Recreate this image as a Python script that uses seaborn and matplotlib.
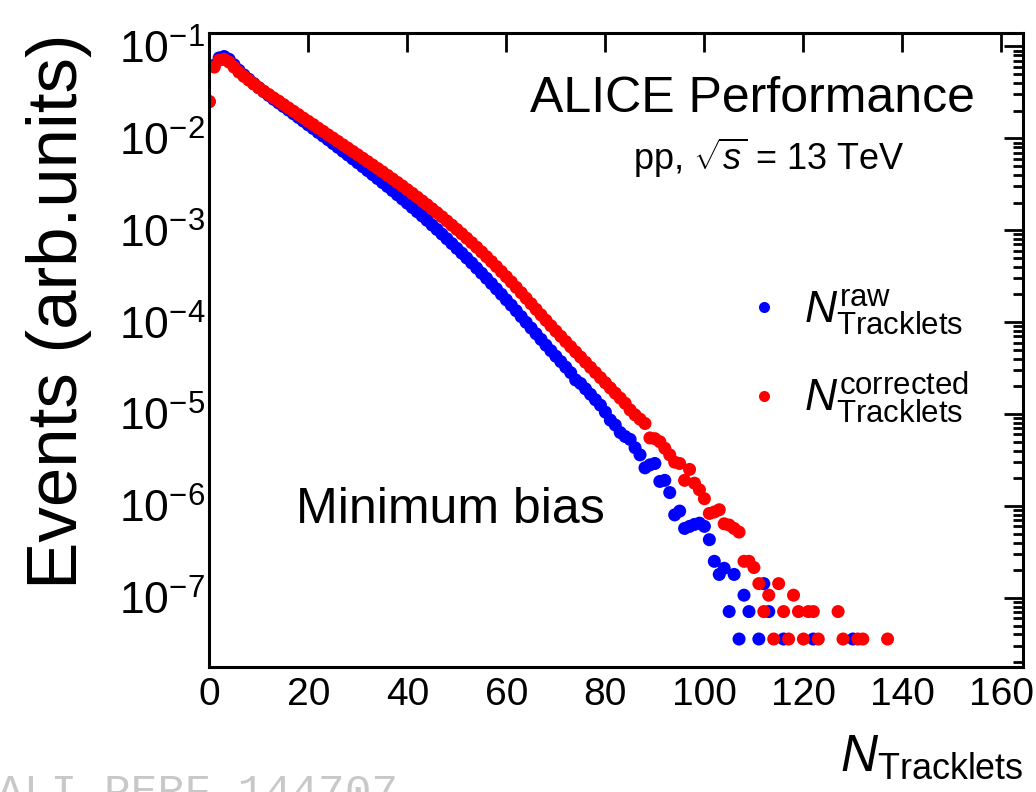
import numpy as np
import pandas as pd
import matplotlib
matplotlib.use("Agg")
import matplotlib.pyplot as plt
import seaborn as sns
from matplotlib.ticker import LogLocator, NullLocator, FixedLocator, NullFormatter

# ---------------- data ----------------
raw_n = list(range(0, 110)) + [111, 112, 113, 116, 122, 130]
raw_vals = [
    2.51e-2, 6.24e-2, 7.50e-2, 7.76e-2, 7.24e-2, 6.31e-2, 5.50e-2, 4.89e-2, 4.39e-2, 3.94e-2,
    3.55e-2, 3.22e-2, 2.93e-2, 2.66e-2, 2.43e-2, 2.22e-2, 2.03e-2, 1.85e-2, 1.69e-2, 1.54e-2,
    1.40e-2, 1.28e-2, 1.16e-2, 1.06e-2, 9.66e-3, 8.77e-3, 7.98e-3, 7.24e-3, 6.59e-3, 5.97e-3,
    5.42e-3, 4.91e-3, 4.45e-3, 4.03e-3, 3.65e-3, 3.30e-3, 2.99e-3, 2.70e-3, 2.43e-3, 2.19e-3,
    1.97e-3, 1.77e-3, 1.59e-3, 1.43e-3, 1.28e-3, 1.14e-3, 1.02e-3, 9.08e-4, 8.07e-4, 7.16e-4,
    6.35e-4, 5.64e-4, 4.99e-4, 4.41e-4, 3.88e-4, 3.41e-4, 3.00e-4, 2.63e-4, 2.30e-4, 2.01e-4,
    1.75e-4, 1.53e-4, 1.33e-4, 1.15e-4, 9.95e-5, 8.63e-5, 7.48e-5, 6.49e-5, 5.62e-5, 4.89e-5,
    4.26e-5, 3.72e-5, 3.24e-5, 2.82e-5, 2.35e-5, 2.15e-5, 1.88e-5, 1.64e-5, 1.43e-5, 1.25e-5,
    1.05e-5, 8.6e-6, 7.6e-6, 6.3e-6, 5.7e-6, 5.3e-6, 4.3e-6, 3.6e-6, 2.6e-6, 2.8e-6,
    2.9e-6, 1.85e-6, 1.9e-6, 1.4e-6, 8.0e-7, 8.8e-7, 5.7e-7, 6.0e-7, 6.3e-7, 6.5e-7,
    6.0e-7, 4.3e-7, 2.5e-7, 1.8e-7, 2.1e-7, 7.1e-8, 1.8e-7, 3.57e-8, 1.07e-7, 7.1e-8,
    3.57e-8, 1.43e-7, 7.1e-8, 3.57e-8, 3.57e-8, 3.57e-8,
]

corr_n = list(range(0, 124)) + [127, 128, 131, 132, 137]
corr_vals = [
    2.51e-2, 5.96e-2, 7.08e-2, 7.24e-2, 6.76e-2, 5.96e-2, 5.25e-2, 4.72e-2, 4.29e-2, 3.89e-2,
    3.55e-2, 3.26e-2, 3.00e-2, 2.75e-2, 2.54e-2, 2.33e-2, 2.14e-2, 1.97e-2, 1.81e-2, 1.66e-2,
    1.53e-2, 1.41e-2, 1.29e-2, 1.19e-2, 1.09e-2, 1.005e-2, 9.25e-3, 8.49e-3, 7.82e-3, 7.18e-3,
    6.61e-3, 6.07e-3, 5.57e-3, 5.12e-3, 4.70e-3, 4.32e-3, 3.95e-3, 3.62e-3, 3.31e-3, 3.03e-3,
    2.76e-3, 2.52e-3, 2.29e-3, 2.08e-3, 1.89e-3, 1.71e-3, 1.55e-3, 1.40e-3, 1.26e-3, 1.135e-3,
    1.02e-3, 9.16e-4, 8.20e-4, 7.33e-4, 6.53e-4, 5.81e-4, 5.15e-4, 4.56e-4, 4.03e-4, 3.55e-4,
    3.12e-4, 2.74e-4, 2.39e-4, 2.09e-4, 1.82e-4, 1.585e-4, 1.38e-4, 1.20e-4, 1.047e-4, 9.14e-5,
    8.00e-5, 7.01e-5, 6.15e-5, 5.40e-5, 4.74e-5, 4.17e-5, 3.66e-5, 3.22e-5, 2.83e-5, 2.49e-5,
    2.19e-5, 1.92e-5, 1.69e-5, 1.49e-5, 1.31e-5, 1.11e-5, 9.8e-6, 8.8e-6, 7.9e-6, 5.5e-6,
    5.4e-6, 5.0e-6, 4.25e-6, 3.6e-6, 3.0e-6, 2.9e-6, 1.9e-6, 2.5e-6, 1.77e-6, 1.5e-6,
    1.2e-6, 8.3e-7, 8.6e-7, 9.1e-7, 6.4e-7, 6.2e-7, 5.7e-7, 5.2e-7, 2.5e-7, 2.5e-7,
    2.14e-7, 1.43e-7, 7.1e-8, 1.07e-7, 3.57e-8, 1.43e-7, 7.1e-8, 3.57e-8, 1.07e-7, 7.1e-8,
    3.57e-8, 7.1e-8, 7.1e-8, 3.57e-8,
    7.1e-8, 3.57e-8, 3.57e-8, 3.57e-8, 3.57e-8,
]

raw_label = r"$N^{\mathrm{raw}}_{\mathrm{Tracklets}}$"
corr_label = r"$N^{\mathrm{corrected}}_{\mathrm{Tracklets}}$"
x_ticks = [0, 20, 40, 60, 80, 100, 120, 140, 160]

df = pd.concat([
    pd.DataFrame({"N": raw_n, "val": raw_vals, "series": raw_label}),
    pd.DataFrame({"N": corr_n, "val": corr_vals, "series": corr_label}),
], ignore_index=True)

# ---------------- style ----------------
sns.set_theme(style="white")
plt.rcParams["font.family"] = ["Liberation Sans", "DejaVu Sans"]
plt.rcParams["mathtext.fontset"] = "custom"
plt.rcParams["mathtext.rm"] = "Liberation Sans"
plt.rcParams["mathtext.it"] = "Liberation Sans:italic"
plt.rcParams["mathtext.bf"] = "Liberation Sans:bold"
plt.rcParams["axes.unicode_minus"] = True
plt.rcParams["text.color"] = "black"
plt.rcParams["axes.labelcolor"] = "black"
plt.rcParams["xtick.color"] = "black"
plt.rcParams["ytick.color"] = "black"

fig = plt.figure(figsize=(10.36, 7.92), dpi=100)
ax = fig.add_axes([0.2020, 0.1578, 0.7857, 0.8002])

sns.scatterplot(data=df, x="N", y="val", hue="series",
                palette={raw_label: "#0000ff", corr_label: "#ff0000"},
                s=88, linewidth=0, edgecolor="none", ax=ax, legend=True)

ax.set_yscale("log")
ax.set_xlim(0, 164.4)
ax.set_ylim(1.77e-8, 0.139)

ax.xaxis.set_major_locator(FixedLocator(x_ticks))
ax.xaxis.set_minor_locator(NullLocator())
ax.yaxis.set_major_locator(LogLocator(base=10, numticks=20))
ax.yaxis.set_minor_locator(LogLocator(base=10, subs=np.arange(2, 10), numticks=200))
ax.yaxis.set_minor_formatter(NullFormatter())

ax.tick_params(which="both", direction="in", top=True, right=True,
               width=2.0, color="black", labelcolor="black")
ax.tick_params(which="major", length=14)
ax.tick_params(which="minor", length=7)
ax.tick_params(axis="x", labelsize=28, pad=7)
ax.tick_params(axis="y", labelsize=32, pad=3)
for sp in ax.spines.values():
    sp.set_linewidth(2.2)
    sp.set_color("black")

ax.set_xlabel(r"$N_{\mathrm{Tracklets}}$", fontsize=37, loc="right")
ax.xaxis.set_label_coords(1.0, -0.103)
ax.set_ylabel("Events (arb.units)", fontsize=51, loc="top")
ax.yaxis.set_label_coords(-0.144, 1.0)

h, l = ax.get_legend_handles_labels()
ax.legend(h, l, frameon=False, fontsize=32, loc="center left",
          bbox_to_anchor=(0.605, 0.49), markerscale=0.85,
          handletextpad=0.4, labelspacing=0.75, handlelength=1.0)

ax.text(0.9407, 0.875, "ALICE Performance", transform=ax.transAxes,
        ha="right", va="baseline", fontsize=36)
ax.text(0.855, 0.784, r"pp, $\sqrt{s}$ = 13 TeV", transform=ax.transAxes,
        ha="right", va="baseline", fontsize=26)
ax.text(0.1065, 0.227, "Minimum bias", transform=ax.transAxes,
        ha="left", va="baseline", fontsize=36)

fig.text(-0.003, -0.0165, "ALI-PERF-144707", family="Liberation Mono",
         fontsize=32, color="#c8c8c8", ha="left", va="baseline")

fig.savefig("out.png", dpi=100)
